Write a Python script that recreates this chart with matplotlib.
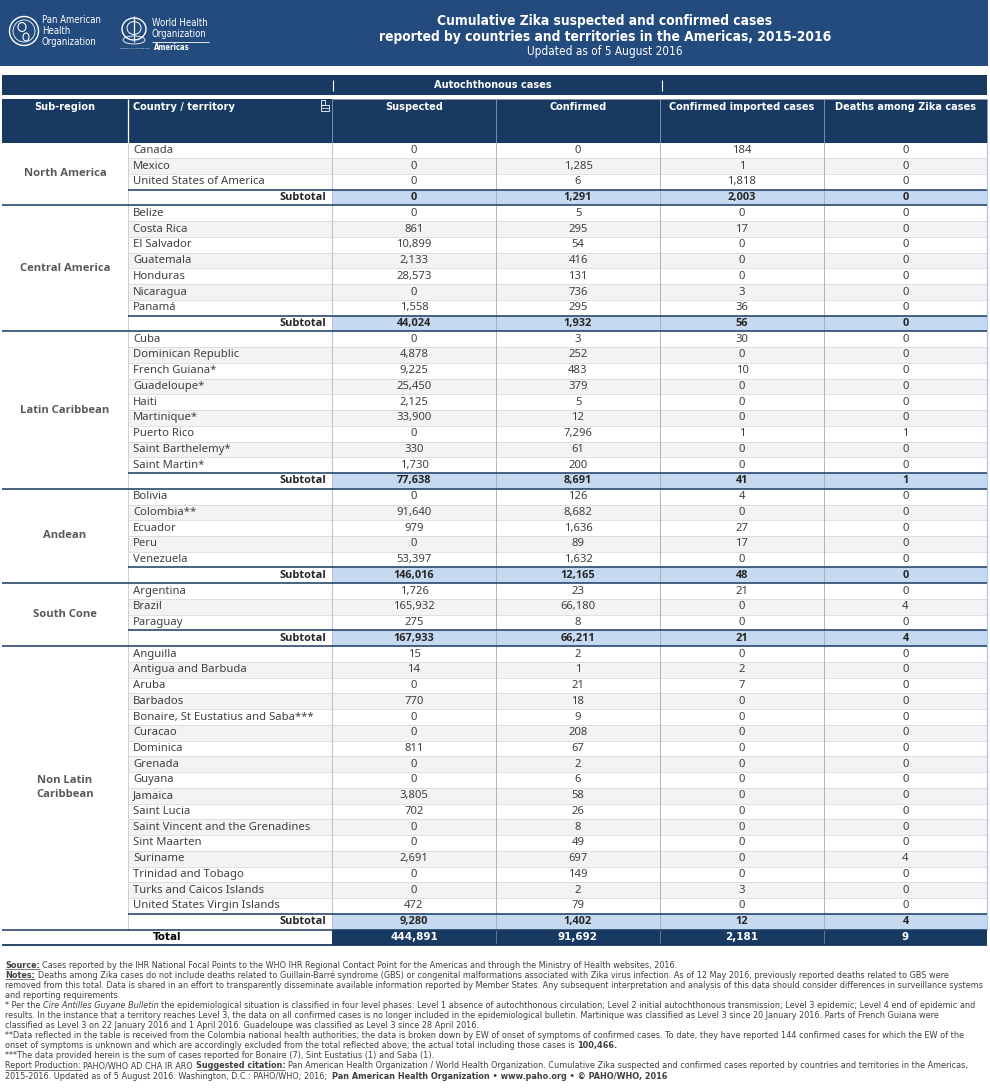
import matplotlib
matplotlib.use('Agg')
import matplotlib.pyplot as plt
from matplotlib import font_manager as fm
from matplotlib.patches import Rectangle, Circle, Ellipse

# ---------------- DATA ----------------
regions = ["North America", "Central America", "Latin Caribbean", "Andean",
           "South Cone", "Non Latin\nCaribbean"]

countries = [
    ["Canada", "Mexico", "United States of America"],
    ["Belize", "Costa Rica", "El Salvador", "Guatemala", "Honduras", "Nicaragua", "Panamá"],
    ["Cuba", "Dominican Republic", "French Guiana*", "Guadeloupe*", "Haiti", "Martinique*",
     "Puerto Rico", "Saint Barthelemy*", "Saint Martin*"],
    ["Bolivia", "Colombia**", "Ecuador", "Peru", "Venezuela"],
    ["Argentina", "Brazil", "Paraguay"],
    ["Anguilla", "Antigua and Barbuda", "Aruba", "Barbados", "Bonaire, St Eustatius and Saba***",
     "Curacao", "Dominica", "Grenada", "Guyana", "Jamaica", "Saint Lucia",
     "Saint Vincent and the Grenadines", "Sint Maarten", "Suriname", "Trinidad and Tobago",
     "Turks and Caicos Islands", "United States Virgin Islands"],
]

suspected = [
    [0, 0, 0],
    [0, 861, 10899, 2133, 28573, 0, 1558],
    [0, 4878, 9225, 25450, 2125, 33900, 0, 330, 1730],
    [0, 91640, 979, 0, 53397],
    [1726, 165932, 275],
    [15, 14, 0, 770, 0, 0, 811, 0, 0, 3805, 702, 0, 0, 2691, 0, 0, 472],
]
confirmed = [
    [0, 1285, 6],
    [5, 295, 54, 416, 131, 736, 295],
    [3, 252, 483, 379, 5, 12, 7296, 61, 200],
    [126, 8682, 1636, 89, 1632],
    [23, 66180, 8],
    [2, 1, 21, 18, 9, 208, 67, 2, 6, 58, 26, 8, 49, 697, 149, 2, 79],
]
imported = [
    [184, 1, 1818],
    [0, 17, 0, 0, 0, 3, 36],
    [30, 0, 10, 0, 0, 0, 1, 0, 0],
    [4, 0, 27, 17, 0],
    [21, 0, 0],
    [0, 2, 7, 0, 0, 0, 0, 0, 0, 0, 0, 0, 0, 0, 0, 3, 0],
]
deaths = [
    [0, 0, 0],
    [0, 0, 0, 0, 0, 0, 0],
    [0, 0, 0, 0, 0, 0, 1, 0, 0],
    [0, 0, 0, 0, 0],
    [0, 4, 0],
    [0, 0, 0, 0, 0, 0, 0, 0, 0, 0, 0, 0, 0, 4, 0, 0, 0],
]

col_headers = ["Suspected", "Confirmed", "Confirmed imported cases", "Deaths among Zika cases"]
title_lines = ["Cumulative Zika suspected and confirmed cases",
               "reported by countries and territories in the Americas, 2015-2016",
               "Updated as of 5 August 2016"]

footnotes = [
    [("Source:", "bu"), (" Cases reported by the IHR National Focal Points to the WHO IHR Regional Contact Point for the Americas and through the Ministry of Health websites, 2016.", "n")],
    [("Notes:", "bu"), (" Deaths among Zika cases do not include deaths related to Guillain-Barré syndrome (GBS) or congenital malformations associated with Zika virus infection. As of 12 May 2016, previously reported deaths related to GBS were", "n")],
    [("removed from this total. Data is shared in an effort to transparently disseminate available information reported by Member States. Any subsequent interpretation and analysis of this data should consider differences in surveillance systems", "n")],
    [("and reporting requirements.", "n")],
    [("* Per the ", "n"), ("Cire Antilles Guyane Bulletin", "i"), (" the epidemiological situation is classified in four level phases: Level 1 absence of autochthonous circulation; Level 2 initial autochthonous transmission; Level 3 epidemic; Level 4 end of epidemic and", "n")],
    [("results. In the instance that a territory reaches Level 3, the data on all confirmed cases is no longer included in the epidemiological bulletin. Martinique was classified as Level 3 since 20 January 2016. Parts of French Guiana were", "n")],
    [("classified as Level 3 on 22 January 2016 and 1 April 2016. Guadeloupe was classified as Level 3 since 28 April 2016.", "n")],
    [("**Data reflected in the table is received from the Colombia national health authorities; the data is broken down by EW of onset of symptoms of confirmed cases. To date, they have reported 144 confirmed cases for which the EW of the", "n")],
    [("onset of symptoms is unknown and which are accordingly excluded from the total reflected above; the actual total including those cases is ", "n"), ("100,466.", "b")],
    [("***The data provided herein is the sum of cases reported for Bonaire (7), Sint Eustatius (1) and Saba (1).", "n")],
    [("Report Production:", "u"), (" PAHO/WHO AD CHA IR ARO ", "n"), ("Suggested citation:", "bu"), (" Pan American Health Organization / World Health Organization. Cumulative Zika suspected and confirmed cases reported by countries and territories in the Americas,", "n")],
    [("2015-2016. Updated as of 5 August 2016. Washington, D.C.: PAHO/WHO; 2016;  ", "n"), ("Pan American Health Organization • www.paho.org • © PAHO/WHO, 2016", "b")],
]

# ---------------- STYLE ----------------
BANNER = "#234b7d"
NAVY = "#183a62"
SUBT = "#c5d9f1"
SHADE = "#f3f3f3"
GRID = "#d4d4d4"
VGRAY = "#a8a8a8"
VBLUE = "#b4c6de"
TXT = "#404040"

flist = fm.fontManager.ttflist
names = {f.name for f in flist}


def has_bold(name):
    return any(f.name == name and f.weight in (600, 700, 800, "bold", "semibold", "demibold")
               for f in flist)


if "Liberation Sans Narrow" in names:
    NARROW = dict(family="Liberation Sans Narrow")
else:
    NARROW = dict(family="DejaVu Sans", fontstretch="condensed")
BODY = dict(family="Noto Sans" if "Noto Sans" in names else "DejaVu Sans")
BOLD_FAMILY = "DejaVu Sans"
for cand in ["Noto Sans", "Open Sans", "Lato", "Roboto"]:
    if cand in names and has_bold(cand):
        BOLD_FAMILY = cand
        break
BODYB = dict(family=BOLD_FAMILY, weight="bold")

W, H = 990, 1088
fig = plt.figure(figsize=(W / 100, H / 100), dpi=100)
ax = fig.add_axes([0, 0, 1, 1])
ax.set_xlim(0, W)
ax.set_ylim(H, 0)
ax.axis("off")
renderer = fig.canvas.get_renderer()


def text_w(s, size, **kw):
    t = ax.text(0, 0, s, fontsize=size, **kw)
    w = t.get_window_extent(renderer).width
    t.remove()
    return w


def fit_size(s, target, **kw):
    return 10.0 * target / text_w(s, 10.0, **kw)


def rect(x0, y0, x1, y1, color, z=1, **kw):
    ax.add_patch(Rectangle((x0, y0), x1 - x0, y1 - y0, facecolor=color,
                           edgecolor="none", zorder=z, **kw))


def hline(y, x0, x1, color, lw, z=3):
    ax.plot([x0, x1], [y, y], color=color, lw=lw, zorder=z, solid_capstyle="butt")


def vline(x, y0, y1, color, lw, z=3):
    ax.plot([x, x], [y0, y1], color=color, lw=lw, zorder=z, solid_capstyle="butt")


col_x = [2, 128, 332, 496, 660, 824, 987]

# ---------------- BANNER ----------------
rect(0, 0, 988, 66, BANNER)
tsz = fit_size(title_lines[1], 454, weight="bold", **NARROW)
ax.text(605, 21, title_lines[0], color="white", fontsize=tsz, weight="bold",
        ha="center", va="center", **NARROW)
ax.text(605, 37, title_lines[1], color="white", fontsize=tsz, weight="bold",
        ha="center", va="center", **NARROW)
ax.text(605, 52, title_lines[2], color="white", fontsize=tsz * 0.85,
        ha="center", va="center", **NARROW)

# PAHO emblem
ax.add_patch(Circle((24, 31), 14.5, fill=False, ec="white", lw=1.0, zorder=4))
ax.add_patch(Circle((24, 31), 11, fill=False, ec="white", lw=0.6, zorder=4))
ax.add_patch(Ellipse((22, 27), 8, 9, fill=False, ec="white", lw=0.8, zorder=4))
ax.add_patch(Ellipse((26, 37), 6, 8, fill=False, ec="white", lw=0.8, zorder=4))
lsz = fit_size("Pan American", 59, **NARROW)
for i, s in enumerate(["Pan American", "Health", "Organization"]):
    ax.text(42, 20 + i * 11, s, color="white", fontsize=lsz, ha="left", va="center", **NARROW)
# WHO emblem
ax.add_patch(Ellipse((134, 29), 24, 22, fill=False, ec="white", lw=1.0, zorder=4))
ax.add_patch(Ellipse((134, 28), 14, 13, fill=False, ec="white", lw=0.7, zorder=4))
vline(134, 16, 42, "white", 0.9, z=4)
ax.add_patch(Ellipse((134, 40), 22, 8, fill=False, ec="white", lw=0.6, zorder=4))
for i, s in enumerate(["World Health", "Organization"]):
    ax.text(152, 23 + i * 11, s, color="white", fontsize=lsz, ha="left", va="center", **NARROW)
hline(41.5, 152, 209, "white", 0.6, z=4)
rsmall = fit_size("REGIONAL OFFICE FOR THE", 30, **NARROW)
ax.text(120, 48, "REGIONAL OFFICE FOR THE", color="white", fontsize=rsmall, ha="left",
        va="center", **NARROW)
ax.text(154, 48, "Americas", color="white", fontsize=lsz * 0.8, weight="bold",
        ha="left", va="center", **NARROW)

# ---------------- TABLE HEADER ----------------
rect(col_x[0], 75, col_x[-1], 95, NAVY)
hsz = fit_size("Confirmed imported cases", 145, weight="bold", **NARROW)
ax.text(493, 85, "Autochthonous cases", color="white", fontsize=hsz, weight="bold",
        ha="center", va="center", **NARROW)
vline(col_x[2] + 0.5, 80, 91, "white", 0.8, z=4)
vline(col_x[4] + 2, 80, 91, "white", 0.8, z=4)

y_head0, y_head1 = 99, 142.5
rect(col_x[0], y_head0, col_x[-1], y_head1, NAVY)
vline(col_x[1], y_head0, y_head1, "white", 0.9, z=4)
for x in col_x[2:6]:
    vline(x, y_head0, y_head1, "#7f8ea3", 0.7, z=4)
hline(y_head0, col_x[2], col_x[-1], "#8a97a8", 0.7, z=4)
vline(col_x[-1], y_head0, y_head1, "#8a97a8", 0.7, z=4)
ax.text((col_x[0] + col_x[1]) / 2, 107, "Sub-region", color="white", fontsize=hsz,
        weight="bold", ha="center", va="center", **NARROW)
ax.text(col_x[1] + 5, 107, "Country / territory", color="white", fontsize=hsz,
        weight="bold", ha="left", va="center", **NARROW)
for j, h in enumerate(col_headers):
    ax.text((col_x[j + 2] + col_x[j + 3]) / 2, 107, h, color="white", fontsize=hsz,
            weight="bold", ha="center", va="center", **NARROW)
# filter icon
ax.add_patch(Rectangle((320.5, 100), 4, 5, fill=False, ec="white", lw=0.6, zorder=5))
ax.add_patch(Rectangle((320.5, 105), 8, 6, fill=False, ec="white", lw=0.6, zorder=5))
hline(108, 320.5, 328.5, "white", 0.5, z=5)

# ---------------- TABLE BODY ----------------
row_h = 15.74
y0 = 142.5
bsz = fit_size("United States of America", 131, **BODY)
rsz = fit_size("Central America", 91, **BODYB)
ssz = bsz * 0.97


def fmt(v):
    return f"{v:,}"


r = 0
for g, reg in enumerate(regions):
    start = r
    for i, c in enumerate(countries[g]):
        yt = y0 + r * row_h
        yc = yt + row_h / 2
        if i % 2 == 1:
            rect(col_x[1], yt, col_x[-1], yt + row_h, SHADE, z=0.5)
        if i > 0:
            hline(yt, col_x[1], col_x[-1], GRID, 0.5, z=2)
        ax.text(col_x[1] + 5, yc, c, color=TXT, fontsize=bsz, ha="left", va="center", **BODY)
        vals = [suspected[g][i], confirmed[g][i], imported[g][i], deaths[g][i]]
        for j, v in enumerate(vals):
            ax.text((col_x[j + 2] + col_x[j + 3]) / 2, yc, fmt(v), color=TXT, fontsize=bsz,
                    ha="center", va="center", **BODY)
        r += 1
    # subtotal
    yt = y0 + r * row_h
    yc = yt + row_h / 2
    rect(col_x[2], yt, col_x[-1], yt + row_h, SUBT, z=0.5)
    hline(yt, col_x[1], col_x[-1], NAVY, 1.1, z=3.5)
    ax.text(col_x[2] - 6, yc, "Subtotal", color="#262626", fontsize=ssz,
            ha="right", va="center", **BODYB)
    sub = [sum(suspected[g]), sum(confirmed[g]), sum(imported[g]), sum(deaths[g])]
    for j, v in enumerate(sub):
        ax.text((col_x[j + 2] + col_x[j + 3]) / 2, yc, fmt(v), color="#262626", fontsize=ssz,
                ha="center", va="center", **BODYB)
    r += 1
    yb = y0 + r * row_h
    hline(yb, col_x[0], col_x[-1], NAVY, 1.1, z=3.5)
    ax.text((col_x[0] + col_x[1]) / 2, (y0 + start * row_h + yb) / 2, reg, color="#595959",
            fontsize=rsz, ha="center", va="center", linespacing=1.35, **BODYB)

# total row
yt = y0 + r * row_h
yb = yt + row_h
yc = yt + row_h / 2
rect(col_x[2], yt, col_x[-1], yb, NAVY, z=0.5)
ax.text((col_x[0] + col_x[2]) / 2, yc, "Total", color="black", fontsize=hsz * 1.05,
        weight="bold", ha="center", va="center", **NARROW)
tot = [sum(map(sum, suspected)), sum(map(sum, confirmed)), sum(map(sum, imported)),
       sum(map(sum, deaths))]
for j, v in enumerate(tot):
    ax.text((col_x[j + 2] + col_x[j + 3]) / 2, yc, fmt(v), color="white", fontsize=hsz * 1.05,
            weight="bold", ha="center", va="center", **NARROW)
hline(yb, col_x[0], col_x[-1], NAVY, 1.3, z=3.5)

# vertical lines in body
vline(col_x[1], y0, yt, "#c8c8c8", 0.6, z=2.5)
vline(col_x[2], y0, yt, VBLUE, 0.8, z=2.5)
for x in col_x[3:6]:
    vline(x, y0, yt, VGRAY, 0.6, z=2.5)
    vline(x, yt, yb, "#6f7f96", 0.6, z=2.5)
vline(col_x[-1], y0, yt, VBLUE, 0.9, z=2.5)

# ---------------- FOOTNOTES ----------------
STY = {"n": {}, "b": {"weight": "bold"}, "i": {"style": "italic"},
       "bu": {"weight": "bold"}, "u": {}}
fsz = fit_size(footnotes[2][0][0], 980, **NARROW)
sp = text_w("x x", fsz, **NARROW) - text_w("xx", fsz, **NARROW)
fy0, fdy = 964.5, 10.1
for k, line in enumerate(footnotes):
    x = 5
    y = fy0 + k * fdy + 3
    for s, st in line:
        lead = len(s) - len(s.lstrip(" "))
        trail = len(s) - len(s.rstrip(" "))
        core = s.strip(" ")
        x += lead * sp
        t = ax.text(x, y, core, color="#404040", fontsize=fsz, ha="left", va="baseline",
                    **NARROW, **STY[st])
        w = t.get_window_extent(renderer).width
        if "u" in st:
            hline(y + 1.3, x, x + w, "#404040", 0.5, z=4)
        x += w + trail * sp

fig.savefig("out.png", dpi=100)
